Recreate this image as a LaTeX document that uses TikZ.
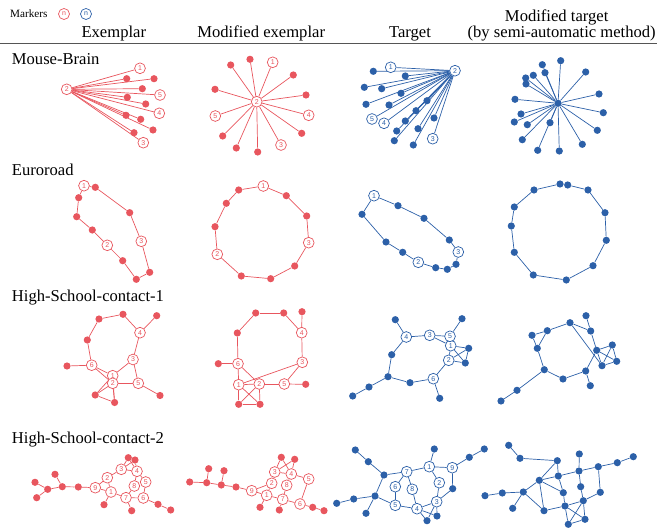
\documentclass[tikz,border=0pt]{standalone}
\usepackage{fontspec}
\setmainfont{Liberation Serif}
\newfontfamily\numfont{Liberation Sans}
\pgfdeclarelayer{background}
\pgfsetlayers{background,main}
\definecolor{exred}{RGB}{232,86,94}
\definecolor{exblue}{RGB}{44,96,168}
\definecolor{rulegray}{RGB}{85,85,85}

\tikzset{
  rdot/.style={circle,fill=exred,inner sep=0pt,minimum size=7.2pt},
  bdot/.style={circle,fill=exblue,inner sep=0pt,minimum size=7.2pt},
  rring/.style={circle,draw=exred,fill=white,line width=.7pt,inner sep=0pt,
    minimum size=10.8pt,text=exred,font=\numfont\fontsize{7}{7}\selectfont},
  bring/.style={rring,draw=exblue,text=exblue},
  redge/.style={exred,line width=.7pt},
  bedge/.style={exblue,line width=.7pt},
  colhead/.style={anchor=base,inner sep=0pt,font=\fontsize{16.6}{19}\selectfont},
  rowhead/.style={anchor=base west,inner sep=0pt,font=\fontsize{16.6}{19}\selectfont}
}

\begin{document}
\begin{tikzpicture}[x=1pt,y=-1pt]
  \useasboundingbox (0,0) rectangle (657,529);

  % header
  \node[anchor=base west,inner sep=0pt,font=\fontsize{11.2}{13}\selectfont] (mrk) at (10,17.8) {Markers};
  \node[rring,minimum size=11pt] (mrkR) at (64,14) {n};
  \node[bring,minimum size=11pt] (mrkB) at (86,14) {n};
  \node[colhead] (hdrE) at (113.8,37.3) {Exemplar};
  \node[colhead] (hdrM) at (261.2,37.3) {Modified exemplar};
  \node[colhead] (hdrT) at (410,37.3) {Target};
  \node[colhead] (hdrS) at (556.7,21.8) {Modified target};
  \node[colhead] (hdrSb) at (561.7,37.3) {(by semi-automatic method)};
  \draw[rulegray,line width=1.1pt] (0,43.3) -- (657,43.3);

  % row titles
  \node[rowhead] (rowMB) at (11.7,64.5) {Mouse-Brain};
  \node[rowhead] (rowER) at (11.7,175.3) {Euroroad};
  \node[rowhead] (rowHA) at (11.7,302) {High-School-contact-1};
  \node[rowhead] (rowHB) at (11.7,444) {High-School-contact-2};

  %%% Mouse-Brain
  % exemplar
  \foreach \n/\x/\y in {2/66.7/89.3,1/140/68.3,5/160/95,4/159.3/113.3,3/143.3/142.7}
    \node[rring] (mbE-\n) at (\x,\y) {\n};
  \foreach \n/\x/\y in {a/126.7/78.7,b/154/78.7,c/142.3/88.7,d/127.3/97.3,e/145.7/104,
      f/126/115.3,g/140.7/119.3,h/153/130,i/134/132.7}
    \node[rdot] (mbE-\n) at (\x,\y) {};
  \begin{pgfonlayer}{background}
    \foreach \n in {1,a,b,c,5,d,e,4,f,g,h,i,3}
      \draw[redge] (mbE-2) -- (mbE-\n);
  \end{pgfonlayer}

  % modified exemplar
  \foreach \n/\x/\y in {2/256.7/101.7,1/272.7/62.3,5/215.3/116,4/308.7/115.3,3/281/145}
    \node[rring] (mbM-\n) at (\x,\y) {\n};
  \foreach \n/\x/\y in {a/230.7/65,b/250/59.3,c/293.3/75,d/215/89.3,e/306/95,
      f/222.7/136,g/301.7/133.3,h/236.3/148,i/257.7/152}
    \node[rdot] (mbM-\n) at (\x,\y) {};
  \begin{pgfonlayer}{background}
    \foreach \n in {1,a,b,c,5,d,e,4,f,g,h,i,3}
      \draw[redge] (mbM-2) -- (mbM-\n);
  \end{pgfonlayer}

  % target
  \foreach \n/\x/\y in {2/455/70.7,1/390.7/67.3,5/372/119,4/384/123.3,3/432.7/138.7}
    \node[bring] (mbT-\n) at (\x,\y) {\n};
  \foreach \n/\x/\y in {a/373.3/71.3,b/405.3/76,c/364.3/87.3,d/381.7/88.7,e/401/93.3,
      f/366/104.3,g/389/105,h/427/100.7,i/416/110.7,j/405.3/121,k/434/118,
      l/396.7/131,m/418/128.7,n/394.3/140.7,o/413.3/145}
    \node[bdot] (mbT-\n) at (\x,\y) {};
  \begin{pgfonlayer}{background}
    \foreach \n in {1,a,b,c,d,e,f,g,h,i,j,k,l,m,n,o,5,4,3}
      \draw[bedge] (mbT-2) -- (mbT-\n);
  \end{pgfonlayer}

  % modified target
  \node[bdot] (mbS-hub) at (558,103.3) {};
  \foreach \n/\x/\y in {a/560.7/60.7,b/542.3/64.7,c/585.7/72,d/533.3/75.3,e/545/72.7,
      f/525.7/78,g/526/84,h/599/94,i/515/99.3,j/603.3/112.7,k/521/114,l/514.3/122,
      m/527.3/124.7,n/550/122.7,o/597.3/130.3,p/522.3/139.7,q/582.3/144.3,
      r/537.7/150.3,s/559.3/151}
    \node[bdot] (mbS-\n) at (\x,\y) {};
  \begin{pgfonlayer}{background}
    \foreach \n in {a,b,c,d,e,f,g,h,i,j,k,l,m,n,o,p,q,r,s}
      \draw[bedge] (mbS-hub) -- (mbS-\n);
  \end{pgfonlayer}

  %%% Euroroad
  % exemplar
  \foreach \n/\x/\y in {1/84/185.7,3/141.3/241.3,2/107.3/245.3}
    \node[rring] (erE-\n) at (\x,\y) {\n};
  \foreach \n/\x/\y in {a/95.3/187.3,b/129.7/212.7,c/149.7/272.3,d/136.3/279.3,
      e/122.7/260.7,f/92.3/230,g/76.7/216.7,h/78.7/197.7}
    \node[rdot] (erE-\n) at (\x,\y) {};
  \begin{pgfonlayer}{background}
    \foreach \a/\b in {1/a,a/b,b/3,3/c,c/d,d/e,e/2,2/f,f/g,g/h,h/1}
      \draw[redge] (erE-\a) -- (erE-\b);
  \end{pgfonlayer}

  % modified exemplar
  \foreach \n/\x/\y in {1/263.3/186,3/308.7/242.7,2/217.3/254.3}
    \node[rring] (erM-\n) at (\x,\y) {\n};
  \foreach \n/\x/\y in {a/286.3/195.7,b/306.7/216,c/294.7/266,d/270.7/278.7,
      e/241.3/276,f/215/226.7,g/226.3/203.3,h/238.7/190}
    \node[rdot] (erM-\n) at (\x,\y) {};
  \begin{pgfonlayer}{background}
    \foreach \a/\b in {1/a,a/b,b/3,3/c,c/d,d/e,e/2,2/f,f/g,g/h,h/1}
      \draw[redge] (erM-\a) -- (erM-\b);
  \end{pgfonlayer}

  % target
  \foreach \n/\x/\y in {1/374/195.7,3/458.3/252,2/418.3/262.3}
    \node[bring] (erT-\n) at (\x,\y) {\n};
  \foreach \n/\x/\y in {a/398/205.7,b/424/218.3,c/449.3/240,d/456/264.3,e/447.3/269.3,
      f/435.7/267.7,g/402.7/252.3,h/386/242,i/362/214.3}
    \node[bdot] (erT-\n) at (\x,\y) {};
  \begin{pgfonlayer}{background}
    \foreach \a/\b in {1/a,a/b,b/c,c/3,3/d,d/e,e/f,f/2,2/g,g/h,h/i,i/1}
      \draw[bedge] (erT-\a) -- (erT-\b);
  \end{pgfonlayer}

  % modified target
  \foreach \n/\x/\y in {a/560/184,b/567.7/185,c/588/190,d/605/212.7,e/606.3/240.3,
      f/593/265.7,g/566.3/280,h/533.3/275,i/514.3/252.3,j/511.3/226,k/514.3/207,l/534/190}
    \node[bdot] (erS-\n) at (\x,\y) {};
  \begin{pgfonlayer}{background}
    \foreach \a/\b in {a/b,b/c,c/d,d/e,e/f,f/g,g/h,h/i,i/j,j/k,k/l,l/a}
      \draw[bedge] (erS-\a) -- (erS-\b);
  \end{pgfonlayer}

  %%% High-School-contact-1
  % exemplar
  \foreach \n/\x/\y in {1/112.7/375.7,2/112.7/383.3,3/133/359.5,4/140/332.7,
      5/138.3/383.3,6/91.7/365.2}
    \node[rring] (haE-\n) at (\x,\y) {\n};
  \foreach \n/\x/\y in {a/99/319,b/123/314.3,c/156.7/315.7,d/87.3/340,e/67/366,
      f/95.2/395,g/114.6/402.5,h/160/395.5}
    \node[rdot] (haE-\n) at (\x,\y) {};
  \begin{pgfonlayer}{background}
    \foreach \a/\b in {a/b,b/4,c/4,a/d,d/6,6/e,4/3,3/1,3/5,6/1,6/2,1/2,2/5,5/h,
        f/1,f/2,2/g,1/g,f/g}
      \draw[redge] (haE-\a) -- (haE-\b);
  \end{pgfonlayer}

  % modified exemplar
  \foreach \n/\x/\y in {1/238.7/384.7,2/259.3/384,3/302.3/362.3,4/301.7/332.7,
      5/284.3/384,6/238/363.7}
    \node[rring] (haM-\n) at (\x,\y) {\n};
  \foreach \n/\x/\y in {a/255.7/313,b/283.7/313,c/302/311.7,d/237.3/333,e/218.3/363.7,
      f/238.7/404.3,g/260/404.3,h/305.7/384.3}
    \node[rdot] (haM-\n) at (\x,\y) {};
  \begin{pgfonlayer}{background}
    \foreach \a/\b in {a/b,b/4,c/4,a/d,d/6,6/e,4/3,3/1,3/5,6/1,6/2,1/2,2/5,5/h,
        f/1,f/2,2/g,1/g,f/g}
      \draw[redge] (haM-\a) -- (haM-\b);
  \end{pgfonlayer}

  % target
  \foreach \n/\x/\y in {1/450.7/345.7,2/448.7/360.3,3/429.7/335.3,4/406.3/337,
      5/450/336.3,6/433.3/378.7}
    \node[bring] (haT-\n) at (\x,\y) {\n};
  \foreach \n/\x/\y in {a/395.3/319.7,b/462/318.7,c/468.7/348.3,d/391.7/354.7,
      e/465.3/363,f/388/376.7,g/410/382.7,h/369/387,i/352.7/396,j/439.7/398.3}
    \node[bdot] (haT-\n) at (\x,\y) {};
  \begin{pgfonlayer}{background}
    \foreach \a/\b in {a/4,4/3,3/5,3/1,5/b,5/1,1/2,1/c,1/e,2/c,2/e,c/e,4/d,d/f,
        f/h,h/i,f/g,g/6,6/2,6/j}
      \draw[bedge] (haT-\a) -- (haT-\b);
  \end{pgfonlayer}

  % modified target
  \foreach \n/\x/\y in {a/586/315.7,b/570/322.7,c/590.7/331,d/547.3/330.7,e/532/335.3,
      f/537.3/348.3,g/612.3/345,h/596.7/350.3,i/602/365.7,j/616.7/361.3,
      k/544.3/369.7,l/585.7/371,m/563/379,n/590.3/385.7,o/517/390.3,p/501/401}
    \node[bdot] (haS-\n) at (\x,\y) {};
  \begin{pgfonlayer}{background}
    \foreach \a/\b in {a/c,b/c,b/d,d/e,e/f,d/f,f/k,k/m,m/l,l/n,l/h,c/h,b/i,
        h/g,h/j,h/i,g/j,g/i,i/j,k/o,o/p}
      \draw[bedge] (haS-\a) -- (haS-\b);
  \end{pgfonlayer}

  %%% High-School-contact-2
  % exemplar
  \foreach \n/\x/\y in {1/111/492,2/107.3/477.7,3/121.3/469.3,4/137/471.3,
      5/145.7/482,6/143.3/498,7/126/497.7,8/134.3/486,9/95.3/487.7}
    \node[rring] (hbE-\n) at (\x,\y) {\n};
  \foreach \n/\x/\y in {a/35/482.3,b/36.7/497.7,c/47.7/489.3,d/55/474.3,e/62.3/486.7,
      f/78.3/487,g/128.3/457.7,h/135/460,i/104/504.7,j/131.7/510.7,
      k/158/504.3,l/170.7/510}
    \node[rdot] (hbE-\n) at (\x,\y) {};
  \begin{pgfonlayer}{background}
    \foreach \a/\b in {a/c,b/c,c/e,d/e,e/f,f/9,9/2,9/1,2/1,2/3,3/4,3/g,3/h,4/g,4/h,
        4/5,4/8,5/6,8/7,1/7,7/6,1/i,7/j,6/k,k/l}
      \draw[redge] (hbE-\a) -- (hbE-\b);
  \end{pgfonlayer}

  % modified exemplar
  \foreach \n/\x/\y in {1/266.7/495.3,2/271.7/483.3,3/274.7/472,4/291.3/474,
      5/308.7/479,6/300/504,7/282.7/499.3,8/286.7/485.3,9/251.7/490.7}
    \node[rring] (hbM-\n) at (\x,\y) {\n};
  \foreach \n/\x/\y in {a/189.7/482,b/208.7/468.7,c/206.7/482.7,d/224/470.7,
      e/221.3/485,f/236/487,g/281.3/457.3,h/294.7/459.3,i/260/507.3,
      j/279.3/510,k/312.7/507.3,l/324/510.7}
    \node[rdot] (hbM-\n) at (\x,\y) {};
  \begin{pgfonlayer}{background}
    \foreach \a/\b in {a/c,b/c,c/e,d/e,e/f,f/9,9/2,9/1,2/1,2/3,3/4,3/g,3/h,4/g,4/h,
        4/5,4/8,5/6,8/7,1/7,7/6,1/i,7/j,6/k,k/l}
      \draw[redge] (hbM-\a) -- (hbM-\b);
  \end{pgfonlayer}

  % target
  \foreach \n/\x/\y in {1/429.3/466.7,2/439.3/482.7,3/436.7/501.7,4/417/508.7,
      5/395.3/505.3,6/395.3/486.7,7/406.7/471.7,8/412.3/489.3,9/452.3/467.7}
    \node[bring] (hbT-\n) at (\x,\y) {\n};
  \foreach \n/\x/\y in {a/355.3/450,b/368.3/461.7,c/384/475,d/434.3/449,e/469.3/457.3,
      f/484.3/449,g/452.7/488.7,h/375/496,i/353.7/499,j/336.7/503.3,k/366/513.3,
      l/437/516,m/427/520.7}
    \node[bdot] (hbT-\n) at (\x,\y) {};
  \begin{pgfonlayer}{background}
    \foreach \a/\b in {a/b,b/c,c/7,7/1,1/d,1/9,9/e,e/f,1/2,2/3,9/g,g/3,7/6,7/8,6/5,
        8/4,c/h,h/i,i/j,h/k,h/5,5/4,4/3,4/m,4/l,3/m,3/l}
      \draw[bedge] (hbT-\a) -- (hbT-\b);
  \end{pgfonlayer}

  % modified target
  \foreach \n/\x/\y in {a/508.7/445.3,b/520/458.3,c/557.3/460.7,d/579.3/454,
      e/633.3/456.7,f/617.3/462.7,g/598.3/466.7,h/579/471,i/558.3/476,j/539.3/480.3,
      k/580.7/486.7,l/600.3/492.3,m/563.3/492.7,n/523.3/492,o/502.3/493,p/485/495.7,
      q/583.3/500.7,r/565/506,s/512.7/508.3,t/544/510.7,u/585/519.3,v/568.3/524.3}
    \node[bdot] (hbS-\n) at (\x,\y) {};
  \begin{pgfonlayer}{background}
    \foreach \a/\b in {a/b,b/c,c/j,c/i,i/m,j/i,i/h,h/g,g/f,f/e,d/h,h/k,k/q,g/l,l/q,
        j/m,j/n,j/t,n/o,o/p,n/s,n/t,t/r,m/r,r/q,r/v,r/u,q/u,q/v,v/u}
      \draw[bedge] (hbS-\a) -- (hbS-\b);
  \end{pgfonlayer}
\end{tikzpicture}
\end{document}
